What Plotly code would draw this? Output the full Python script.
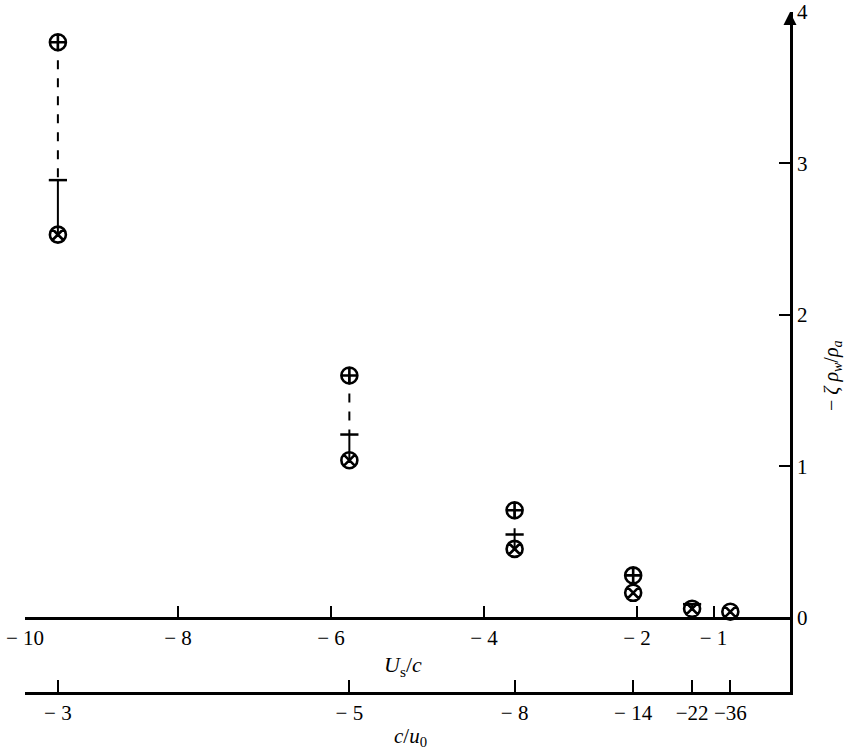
import plotly.graph_objects as go

# Data
us_c = [-9.57, -5.76, -3.60, -2.05, -1.28, -0.78]          # U_s/c positions
zeta_plus_circle = [3.80, 1.60, 0.71, 0.28, None, None]    # ⊕ values
zeta_cross = [2.89, 1.21, 0.55, None, 0.09, None]          # + values
zeta_x_circle = [2.53, 1.04, 0.455, 0.165, 0.06, 0.04]     # ⊗ values

x_ticks = [-10, -8, -6, -4, -2, -1]
x_ticktext = ["\u2212 10", "\u2212 8", "\u2212 6", "\u2212 4", "\u2212 2", "\u2212 1"]
cu0_labels = ["\u2212 3", "\u2212 5", "\u2212 8", "\u2212 14", "\u221222", "\u221236"]
y_ticks = [0, 1, 2, 3, 4]

W, H = 846, 752
FONT = "Liberation Serif"


def px(x):
    return x / W


def py(y):
    return (H - y) / H


fig = go.Figure()

# dashed segments ⊕ -> +, solid segments + -> ⊗
for i, x in enumerate(us_c):
    top = zeta_plus_circle[i]
    mid = zeta_cross[i]
    bot = zeta_x_circle[i]
    if top is not None and mid is not None:
        fig.add_trace(go.Scatter(x=[x, x], y=[top, mid], mode="lines",
                                 line=dict(color="black", width=2, dash="dash"),
                                 showlegend=False, hoverinfo="skip"))
    if mid is not None and bot is not None:
        fig.add_trace(go.Scatter(x=[x, x], y=[mid, bot], mode="lines",
                                 line=dict(color="black", width=2),
                                 showlegend=False, hoverinfo="skip"))

fig.add_trace(go.Scatter(x=us_c, y=zeta_cross, mode="markers",
                         marker=dict(symbol="line-ew", size=13, color="black",
                                     line=dict(color="black", width=2.5)),
                         showlegend=False, cliponaxis=False))
fig.add_trace(go.Scatter(x=us_c, y=zeta_plus_circle, mode="markers",
                         marker=dict(symbol="circle-cross-open", size=16, color="black",
                                     line=dict(color="black", width=2.6)),
                         showlegend=False, cliponaxis=False))
fig.add_trace(go.Scatter(x=us_c, y=zeta_x_circle, mode="markers",
                         marker=dict(symbol="circle-x-open", size=16, color="black",
                                     line=dict(color="black", width=2.6)),
                         showlegend=False, cliponaxis=False))

# invisible trace to activate the second x axis
fig.add_trace(go.Scatter(x=[us_c[0]], y=[None], xaxis="x2", yaxis="y",
                         mode="markers", showlegend=False, hoverinfo="skip"))

xdom = [px(25), px(790)]
ydom = [py(692), py(12)]
yrange = [-0.49, 4.0]
y0_page = 692 - (0 - yrange[0]) * ((692 - 12) / (yrange[1] - yrange[0]))
main_pos = py(y0_page)

tickfont = dict(family=FONT, size=21, color="black")

fig.update_layout(
    template="none",
    width=W, height=H,
    autosize=False,
    margin=dict(l=0, r=0, t=0, b=0, pad=0),
    plot_bgcolor="white", paper_bgcolor="white",
    font=dict(family=FONT, size=21, color="black"),
    xaxis=dict(domain=xdom, range=[-10, 0], anchor="free", position=main_pos,
               automargin=False,
               showgrid=False, zeroline=False, showline=True, linecolor="black",
               linewidth=2.5, ticks="inside", ticklen=11, tickwidth=2, tickcolor="black",
               tickvals=x_ticks, ticktext=x_ticktext, tickfont=tickfont),
    xaxis2=dict(domain=xdom, range=[-10, 0], anchor="y", overlaying="x", side="bottom",
                automargin=False,
                showgrid=False, zeroline=False, showline=True, linecolor="black",
                linewidth=2.5, ticks="inside", ticklen=12, tickwidth=2, tickcolor="black",
                tickvals=us_c, ticktext=cu0_labels, tickfont=tickfont),
    yaxis=dict(domain=ydom, range=yrange, anchor="x", side="right",
               automargin=False, ticklabeloverflow="allow",
               showgrid=False, zeroline=False, showline=True, linecolor="black",
               linewidth=2.5, ticks="inside", ticklen=11, tickwidth=2, tickcolor="black",
               tickvals=y_ticks, ticktext=[str(v) for v in y_ticks], tickfont=tickfont),
    annotations=[
        dict(x=0, y=4.0, xref="x", yref="y", ax=0, ay=18, axref="pixel", ayref="pixel",
             showarrow=True, arrowhead=2, arrowsize=1.3, arrowwidth=2, arrowcolor="black", text=" "),
        dict(x=px(403), y=py(666), xref="paper", yref="paper", showarrow=False,
             xanchor="center", yanchor="middle",
             text="<i>U</i><sub>s</sub>/<i>c</i>", font=dict(family=FONT, size=22, color="black")),
        dict(x=px(410), y=py(737), xref="paper", yref="paper", showarrow=False,
             xanchor="center", yanchor="middle",
             text="<i>c</i>/<i>u</i><sub>0</sub>", font=dict(family=FONT, size=21, color="black")),
        dict(x=px(832), y=py(376), xref="paper", yref="paper", showarrow=False,
             xanchor="center", yanchor="middle", textangle=-90,
             text="\u2212 <i>\u03b6 \u03c1<sub>w</sub></i>/<i>\u03c1<sub>a</sub></i>",
             font=dict(family=FONT, size=20, color="black")),
    ],
)

fig.write_html("out.html",
               config={"displayModeBar": False},
               post_script="document.body.style.margin='0';document.body.style.overflow='hidden';")
